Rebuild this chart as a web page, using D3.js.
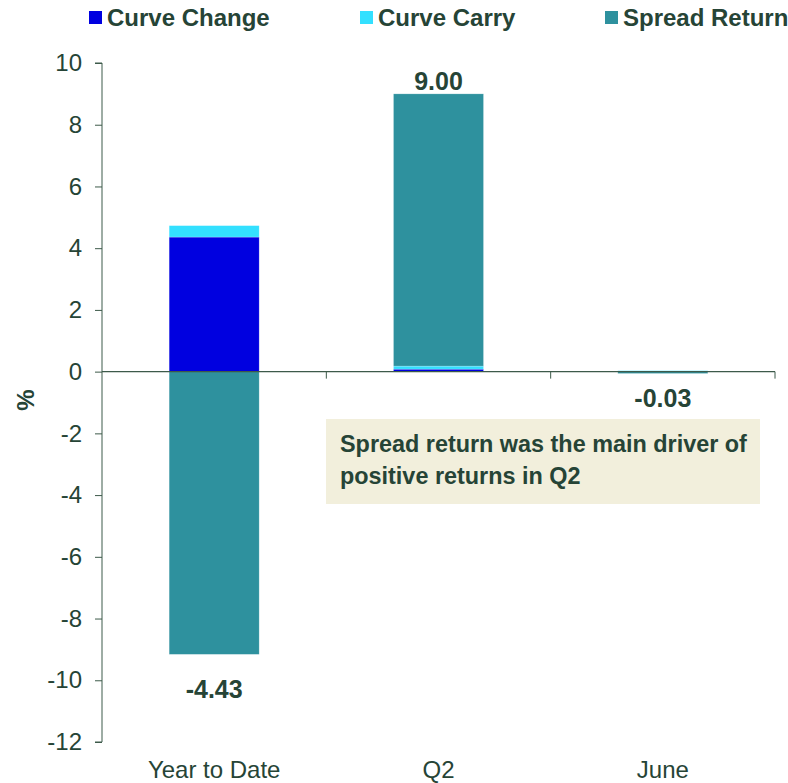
<!DOCTYPE html>
<html>
<head>
<meta charset="utf-8">
<script src="https://cdn.jsdelivr.net/npm/d3@7/dist/d3.min.js"></script>
<style>
  body { margin: 0; background: #fff; }
  svg { display: block; font-family: "Liberation Sans", Arial, sans-serif; }
  .axis path, .axis line { stroke: #3d5a4a; }
</style>
</head>
<body>
<svg id="chart" width="788" height="783"></svg>
<script>
// chart data
var categories = ["Year to Date", "Q2", "June"];
var curveChange = [4.36, 0.08, 0.00];
var curveCarry = [0.37, 0.10, 0.03];
var spreadReturn = [-9.16, 8.82, -0.06];
var totalLabels = ["-4.43", "9.00", "-0.03"];
var seriesNames = ["Curve Change", "Curve Carry", "Spread Return"];
var seriesColors = ["#0000e0", "#33e0ff", "#2e919e"];
var yTicks = [-12, -10, -8, -6, -4, -2, 0, 2, 4, 6, 8, 10];

var textColor = "#264436";
var margin = { top: 63, right: 13, bottom: 41, left: 102 };

var svg = d3.select("#chart");
var width = +svg.attr("width") - margin.left - margin.right;
var height = +svg.attr("height") - margin.top - margin.bottom;
var g = svg.append("g")
    .attr("transform", "translate(" + margin.left + "," + margin.top + ")");

var rows = categories.map(function (c, i) {
    return { cat: c, "Curve Change": curveChange[i], "Curve Carry": curveCarry[i], "Spread Return": spreadReturn[i] };
});

var x = d3.scaleBand().domain(categories).range([0, width]).paddingInner(0.6).paddingOuter(0.3);
var y = d3.scaleLinear().domain([-12, 10]).range([height, 0]);

var stack = d3.stack().keys(seriesNames).offset(d3.stackOffsetDiverging);
var layers = stack(rows);

// y axis
var yAxis = g.append("g")
    .attr("class", "axis")
    .call(d3.axisLeft(y).tickValues(yTicks).tickFormat(function (d) { return String(d); })
        .tickSizeInner(7).tickSizeOuter(0).tickPadding(13));
yAxis.select(".domain").attr("d", "M-7,0H0V" + height + "H-7");
yAxis.selectAll("text")
    .attr("fill", textColor)
    .style("font-size", "24px");

// bars
var bandStep = width / categories.length;
var barW = 90;
g.selectAll(".layer")
    .data(layers)
    .enter().append("g")
    .attr("class", "layer")
    .attr("fill", function (d, i) { return seriesColors[i]; })
    .selectAll("rect")
    .data(function (d) { return d; })
    .enter().append("rect")
    .attr("x", function (d) { return x(d.data.cat) + x.bandwidth() / 2 - barW / 2; })
    .attr("y", function (d) { return y(Math.max(d[0], d[1])); })
    .attr("width", barW)
    .attr("height", function (d) { return Math.abs(y(d[0]) - y(d[1])); })
    .attr("stroke", "#ffffff")
    .attr("stroke-opacity", 0.35)
    .attr("stroke-width", 0.6);

// zero line with category ticks
var xAxis = g.append("g")
    .attr("class", "axis")
    .attr("transform", "translate(0," + y(0) + ")");
xAxis.append("line")
    .attr("x1", 0).attr("x2", width)
    .attr("stroke-width", 1.2);
xAxis.selectAll(".tick")
    .data(d3.range(1, categories.length + 1))
    .enter().append("line")
    .attr("x1", function (d) { return d * bandStep; })
    .attr("x2", function (d) { return d * bandStep; })
    .attr("y1", 0).attr("y2", 7);

// category labels
g.selectAll(".cat")
    .data(categories)
    .enter().append("text")
    .attr("x", function (d) { return x(d) + x.bandwidth() / 2; })
    .attr("y", height + 36)
    .attr("text-anchor", "middle")
    .attr("fill", textColor)
    .style("font-size", "24px")
    .text(function (d) { return d; });

// total labels
var labelDy = [44, -4, 34];
g.selectAll(".total")
    .data(rows)
    .enter().append("text")
    .attr("x", function (d) { return x(d.cat) + x.bandwidth() / 2; })
    .attr("y", function (d, i) {
        var top = d3.max(layers, function (l) { return l[i][1]; });
        var bottom = d3.min(layers, function (l) { return l[i][0]; });
        return labelDy[i] < 0 ? y(top) + labelDy[i] : y(bottom) + labelDy[i];
    })
    .attr("text-anchor", "middle")
    .attr("fill", textColor)
    .style("font-size", "25px")
    .style("font-weight", "bold")
    .text(function (d, i) { return totalLabels[i]; });

// y axis title
svg.append("text")
    .attr("transform", "translate(34,400) rotate(-90)")
    .attr("text-anchor", "middle")
    .attr("fill", textColor)
    .style("font-size", "24px")
    .style("font-weight", "bold")
    .text("%");

// legend
var legendX = [89, 360, 605];
var legend = svg.selectAll(".legend")
    .data(seriesNames)
    .enter().append("g")
    .attr("transform", function (d, i) { return "translate(" + legendX[i] + ",11)"; });
legend.append("rect")
    .attr("width", 13).attr("height", 13)
    .attr("fill", function (d, i) { return seriesColors[i]; });
legend.append("text")
    .attr("x", 18).attr("y", 15)
    .attr("fill", textColor)
    .style("font-size", "24px")
    .style("font-weight", "bold")
    .text(function (d) { return d; });

// annotation
var note = svg.append("g").attr("transform", "translate(326,419)");
note.append("rect")
    .attr("width", 434).attr("height", 85)
    .attr("fill", "#f2efdc");
note.append("text")
    .attr("fill", textColor)
    .style("font-size", "23.4px")
    .style("font-weight", "bold")
    .selectAll("tspan")
    .data(["Spread return was the main driver of", "positive returns in Q2"])
    .enter().append("tspan")
    .attr("x", 14)
    .attr("y", function (d, i) { return 33 + i * 32; })
    .text(function (d) { return d; });
</script>
</body>
</html>
